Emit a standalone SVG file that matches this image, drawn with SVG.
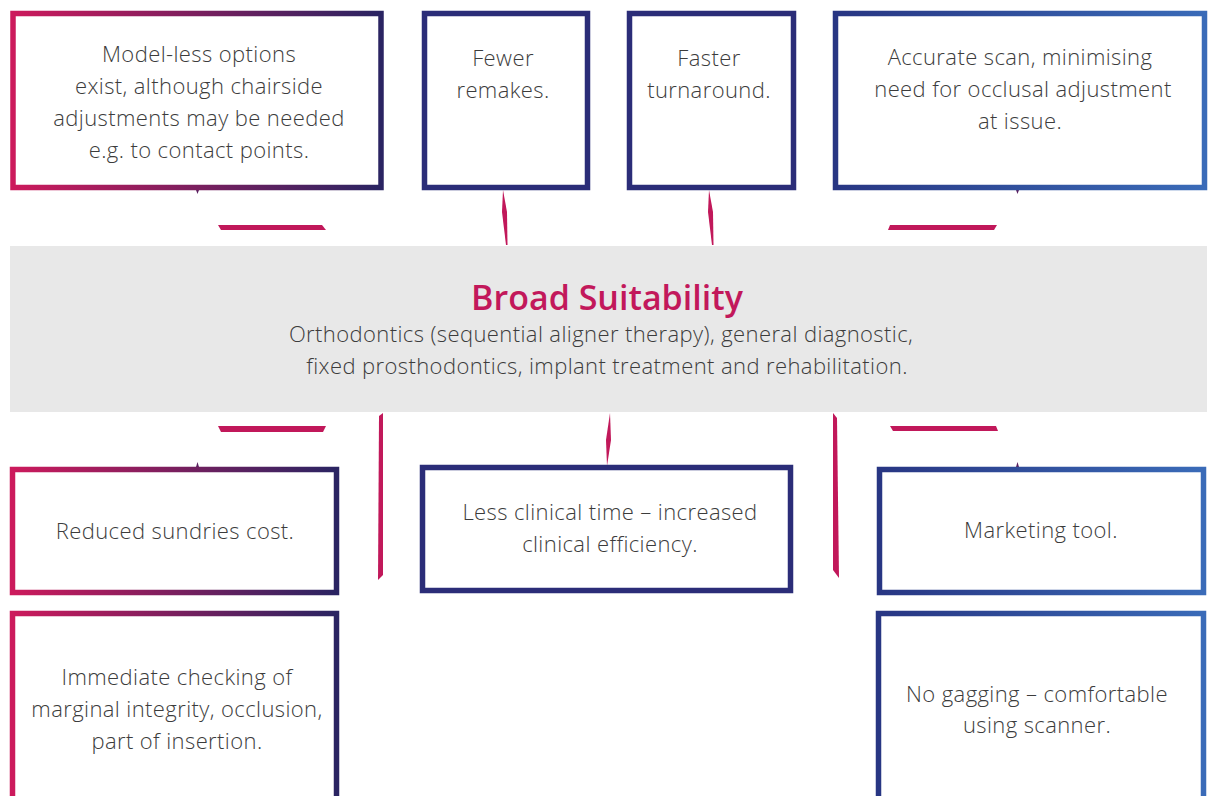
<svg xmlns="http://www.w3.org/2000/svg" width="1212" height="796" viewBox="0 0 1212 796">
<defs>
<linearGradient id="gPink" x1="0" y1="0" x2="1" y2="0"><stop offset="0" stop-color="#cc1a5c"/><stop offset="0.5" stop-color="#7a1f5e"/><stop offset="1" stop-color="#2a2462"/></linearGradient>
<linearGradient id="gBlue" x1="0" y1="0" x2="1" y2="0"><stop offset="0" stop-color="#283683"/><stop offset="1" stop-color="#3a6bb8"/></linearGradient>
<style>
.box{fill:#fff;stroke-width:5.5}
.pink{stroke:url(#gPink)}
.navy{stroke:#2b2d78}
.blue{stroke:url(#gBlue)}
.t{font-family:"Open Sans",Lato,sans-serif;font-weight:300;font-size:22px;letter-spacing:0.4px;fill:#3c3c3c;text-anchor:middle}
.title{font-family:"Open Sans","Noto Sans",sans-serif;font-weight:600;font-size:34px;fill:#c2185b;text-anchor:middle}
.sub{font-family:"Open Sans",Lato,sans-serif;font-weight:300;font-size:22px;letter-spacing:0.4px;fill:#3c3c3c;text-anchor:middle}
.c{fill:#c1185a}
.k{fill:#5a2060}
</style>
</defs>
<rect width="1212" height="796" fill="#fff"/>
<g id="center">
<rect x="10" y="246" width="1197" height="166" fill="#e8e8e8"/>
<text class="title" x="607" y="310">Broad Suitability</text>
<text class="sub" x="601" y="342">Orthodontics (sequential aligner therapy), general diagnostic,</text>
<text class="sub" x="607" y="374">fixed prosthodontics, implant treatment and rehabilitation.</text>
</g>
<g id="connectors">
<polygon class="c" points="218,225 322,225 326,230 221,230"/>
<polygon class="c" points="890,225 997,225 994,230 888,230"/>
<polygon class="c" points="503,190 507,212 507.5,245 506,245 502,212"/>
<polygon class="c" points="709,190 713,212 713.5,245 712,245 708,212"/>
<polygon class="c" points="218,426 326,426 323,432 221,432"/>
<polygon class="c" points="890,426 996,426 998,431 893,431"/>
<polygon class="c" points="379,416 383,413 383,575 378,580"/>
<polygon class="c" points="833,413 837,418 839,578 833,570"/>
<polygon class="c" points="610,413 611,440 607,466 606,440"/>
<polygon class="k" points="196,190 199,190 197.5,194"/>
<polygon class="k" points="1016,190 1019,190 1017.5,194"/>
<polygon class="k" points="196,467 199,467 197.5,462"/>
<polygon class="k" points="1016,467 1019,467 1017.5,462"/>
</g>
<g id="n1"><rect class="box pink" x="13" y="13.5" width="368" height="174"/>
<text class="t" x="199" y="62">Model-less options</text>
<text class="t" x="199" y="94">exist, although chairside</text>
<text class="t" x="199" y="126">adjustments may be needed</text>
<text class="t" x="199" y="158">e.g. to contact points.</text></g>
<g id="n2"><rect class="box navy" x="424.5" y="13.5" width="163" height="174"/>
<text class="t" x="503" y="66">Fewer</text>
<text class="t" x="503" y="98">remakes.</text></g>
<g id="n3"><rect class="box navy" x="629.5" y="13.5" width="164" height="174"/>
<text class="t" x="709" y="66">Faster</text>
<text class="t" x="709" y="98">turnaround.</text></g>
<g id="n4"><rect class="box blue" x="835.5" y="13.5" width="369" height="174"/>
<text class="t" x="1020" y="65">Accurate scan, minimising</text>
<text class="t" x="1023" y="97">need for occlusal adjustment</text>
<text class="t" x="1020" y="129">at issue.</text></g>
<g id="n5"><rect class="box pink" x="12.5" y="469.5" width="324" height="123"/>
<text class="t" x="175" y="539">Reduced sundries cost.</text></g>
<g id="n6"><rect class="box navy" x="422.5" y="467.5" width="368" height="123"/>
<text class="t" x="610" y="520">Less clinical time – increased</text>
<text class="t" x="610" y="552">clinical efficiency.</text></g>
<g id="n7"><rect class="box blue" x="879.5" y="469.5" width="324" height="123"/>
<text class="t" x="1041" y="538">Marketing tool.</text></g>
<g id="n8"><rect class="box pink" x="12.5" y="613.5" width="324" height="200"/>
<text class="t" x="177" y="685">Immediate checking of</text>
<text class="t" x="177" y="717">marginal integrity, occlusion,</text>
<text class="t" x="177" y="749">part of insertion.</text></g>
<g id="n9"><rect class="box blue" x="878.5" y="613.5" width="325" height="200"/>
<text class="t" x="1037" y="702">No gagging – comfortable</text>
<text class="t" x="1037" y="733">using scanner.</text></g>
</svg>
